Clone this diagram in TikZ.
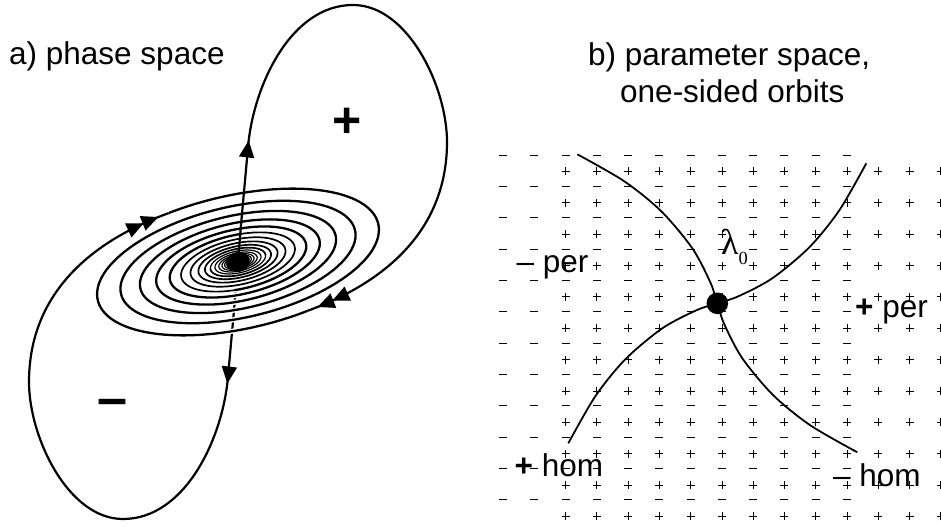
\documentclass[tikz,border=0pt]{standalone}
\usepackage{fontspec}
\setmainfont{Liberation Sans}
\newfontfamily\serifface{Liberation Serif}
\usetikzlibrary{arrows.meta,decorations.markings}

\newcommand\lbl{\fontsize{31.5}{38}\selectfont}
\newcommand\flowtip{\arrow{Triangle[length=17pt,width=15pt]}}
\newcommand\spiralarm[3]{plot[smooth,domain=#1:#2,samples=#3,variable=\t]
  ({154*exp(0.0010013*(\t+120.6))*cos(\t)},{65*exp(0.0010013*(\t+120.6))*sin(\t)})}
\newcommand\looparm{(0,0) .. controls (3,40) and (7,80) .. (10,115)
  .. controls (15.4,176.8) and (53,257) .. (115,257)
  .. controls (170,257) and (209,175) .. (209,120)
  .. controls (209,34) and (150.1,-19.5) .. (69.3,-48.9)}
\newcommand\sepcurve{plot[smooth] coordinates {(-140,149) (-93,122) (-56,92) (-25,55) (-7,21) (0,0)
  (7,-21) (25,-55) (56,-92) (93,-122) (140,-149)}}

\begin{document}
\begin{tikzpicture}[x=1pt,y=1pt,line join=round,
    orbit/.style={line width=2.2pt},
    halo/.style={white,line width=5pt},
    sign/.style={line width=0.8pt},
    sepline/.style={line width=1.8pt},
    label/.style={anchor=base west,inner sep=0pt},
    flowmarks/.style={postaction={decorate},decoration={markings,
      mark=at position 122pt with {\flowtip},
      mark=at position -27pt with {\flowtip},
      mark=at position -11pt with {\flowtip}}}]
  \fill[white] (0,0) rectangle (941,527);
  \useasboundingbox (0,0) rectangle (941,527);

  % a) phase space
  \begin{scope}[shift={(238,265)},rotate=180]
    \draw[orbit,flowmarks] \looparm;
  \end{scope}
  \foreach \r in {14,194} {
    \begin{scope}[shift={(238,265)},rotate=\r]
      \draw[halo] \spiralarm{-70}{-2710}{800};
    \end{scope}
  }
  \foreach \r in {14,194} {
    \begin{scope}[shift={(238,265)},rotate=\r]
      \draw[line width=2.3pt] \spiralarm{-70}{-1000}{300};
      \draw[line width=1.7pt] \spiralarm{-1000}{-1800}{220};
      \draw[line width=1.2pt] \spiralarm{-1800}{-2710}{220};
    \end{scope}
  }
  \begin{scope}[shift={(238,265)}]
    \draw[orbit,flowmarks] \looparm;
  \end{scope}
  \fill[rotate around={14:(238,265)}] (238,265) ellipse (12 and 10);

  \node[inner sep=0pt] (plusLoop) at (346.7,403.7) {\fontsize{50}{50}\selectfont\bfseries +};
  \node[inner sep=0pt] (minusLoop) at (113,118.7) {\fontsize{54}{54}\selectfont\bfseries –};
  \node[label] (titleA) at (9,462) {\lbl a) phase space};

  % b) parameter space
  \foreach \i in {0,...,11} {
    \foreach \j in {0,...,11} {
      \draw[sign] ({499+31.27*\i},{372-31.35*\j}) -- ++(8,0);
    }
  }
  \foreach \i in {2,...,14} {
    \foreach \j in {0,...,11} {
      \draw[sign] ({499+31.27*\i},{355.5-31.35*\j}) -- ++(8,0)
        ({503+31.27*\i},{351.5-31.35*\j}) -- ++(0,8);
    }
  }
  \begin{scope}[shift={(717.3,223.7)}]
    \draw[sepline] \sepcurve;
    \draw[sepline,rotate=90] \sepcurve;
    \fill (0,0) circle (10.8);
  \end{scope}

  \node[label] (titleB) at (588,461) {\lbl b) parameter space,};
  \node[label] (titleB2) at (620,424) {\lbl one-sided orbits};
  \node[label] (lam) at (721,272) {\fontsize{36}{40}\selectfont\serifface λ\raisebox{-10pt}{\fontsize{18.5}{19}\selectfont 0}};
  \node[label] (minusPer) at (516.5,254) {\lbl – per};
  \node[label] (plusPer) at (855,209) {\lbl\textbf{+} per};
  \node[label] (plusHom) at (514.5,50.3) {\lbl\textbf{+} hom};
  \node[label] (minusHom) at (833,40.3) {\lbl – hom};
\end{tikzpicture}
\end{document}
